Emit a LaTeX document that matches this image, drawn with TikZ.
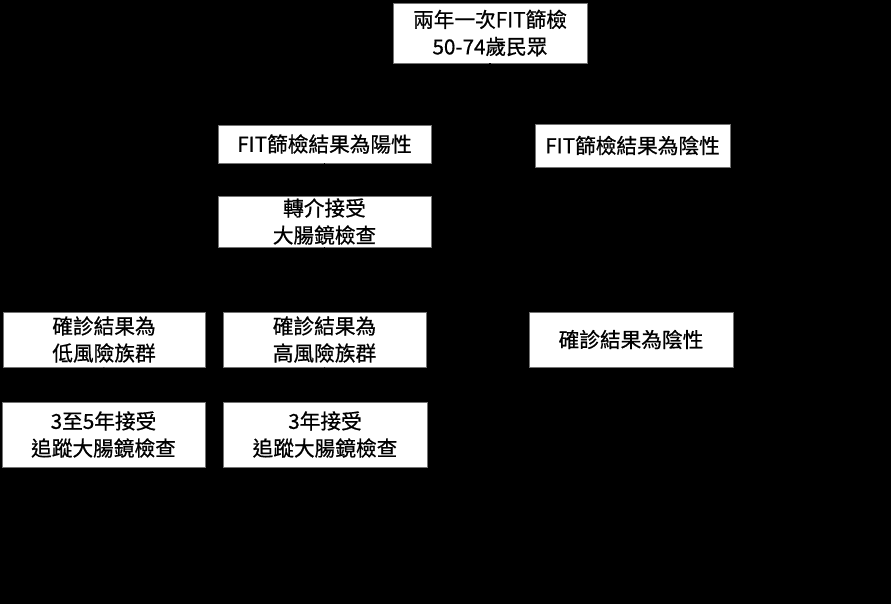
\documentclass[tikz,border=0pt]{standalone}
\usepackage{fontspec}
\newfontfamily\cjk[FakeBold=0.7]{Noto Sans CJK TC}
\usepackage{tikz}
\usetikzlibrary{arrows.meta, positioning}

\begin{document}
\begin{tikzpicture}[
        x=0.75pt, y=-0.75pt,
        font=\cjk\fontsize{15.5}{20.3}\selectfont,
        box/.style={draw=black!55, line width=0.6pt, fill=white, text=black,
                    rectangle, align=center, inner sep=0pt},
        link/.style={-{Stealth[length=2mm]}, line width=0.8pt, black},
      ]
        % ---- 背景 ----
        \fill[black] (0,0) rectangle (891,604);
        \useasboundingbox (0,0) rectangle (891,604);
        % ---- 篩檢 ----
        \node[box, minimum width=194*0.75pt, minimum height=60*0.75pt] (scr) at (490,33) {兩年一次FIT篩檢\\50-74歲民眾};
        \node[box, minimum width=213*0.75pt, minimum height=38*0.75pt] (pos) at (324.5,144) {FIT篩檢結果為陽性};
        \node[box, minimum width=195*0.75pt, minimum height=43*0.75pt] (neg) at (632.5,145.5) {FIT篩檢結果為陰性};
        \node[box, minimum width=213*0.75pt, minimum height=51*0.75pt] (ref) at (324.5,221.5) {轉介接受\\大腸鏡檢查};
        % ---- 確診 ----
        \node[box, minimum width=202*0.75pt, minimum height=55*0.75pt] (low) at (104,339.5) {確診結果為\\低風險族群};
        \node[box, minimum width=203*0.75pt, minimum height=55*0.75pt] (high) at (324.5,339.5) {確診結果為\\高風險族群};
        \node[box, minimum width=204*0.75pt, minimum height=55*0.75pt] (cneg) at (631,339.5) {確診結果為陰性};
        % ---- 追蹤 ----
        \node[box, minimum width=203*0.75pt, minimum height=65*0.75pt] (lowf) at (103.5,434.5) {3至5年接受\\追蹤大腸鏡檢查};
        \node[box, minimum width=204*0.75pt, minimum height=65*0.75pt] (highf) at (325,434.5) {3年接受\\追蹤大腸鏡檢查};
        % ---- 連接線 ----
        \draw[link] (scr.south) -- ++(0,30) -| (pos.north);
        \draw[link] (scr.south) -- ++(0,30) -| (neg.north);
        \draw[link] (pos) -- (ref);
        \draw[link] (ref.south) -- ++(0,30) -| (low.north);
        \draw[link] (ref) -- (high);
        \draw[link] (ref.south) -- ++(0,30) -| (cneg.north);
        \draw[link] (low) -- (lowf);
        \draw[link] (high) -- (highf);
      \end{tikzpicture}
\end{document}
